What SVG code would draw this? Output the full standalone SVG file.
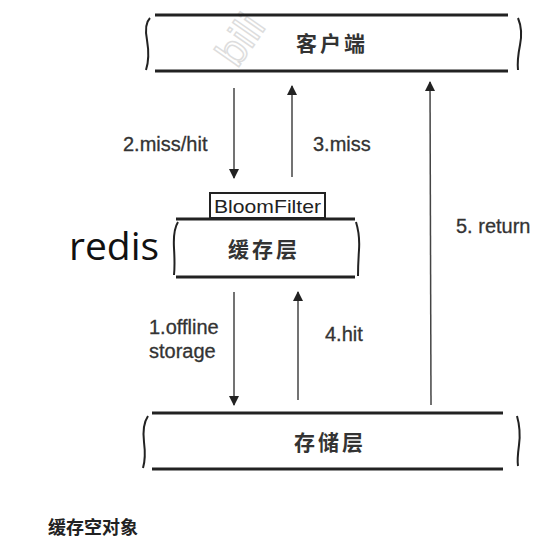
<svg xmlns="http://www.w3.org/2000/svg" width="553" height="543" viewBox="0 0 553 543">
<defs>
<marker id="ah" viewBox="0 0 10 10" refX="9" refY="5" markerWidth="10" markerHeight="10" markerUnits="userSpaceOnUse" orient="auto">
<path d="M0,0 L10,5 L0,10 z" fill="#222"/>
</marker>
<style>
.bar{stroke:#222;stroke-width:3;fill:none}
.brace{stroke:#222;stroke-width:2;fill:none}
.arr{stroke:#444;stroke-width:1.5;fill:none;marker-end:url(#ah)}
.lbl{font-family:"Liberation Sans",Arial,sans-serif;font-size:20px;fill:#333;stroke:#333;stroke-width:0.3}
.cn{font-family:"Noto Sans CJK SC",serif;font-size:21px;fill:#333;text-anchor:middle;font-weight:bold;letter-spacing:3px}
</style>
</defs>
<rect width="553" height="543" fill="#fff"/>
<text x="252" y="48" transform="rotate(-55 252 48)" font-family="Liberation Sans,sans-serif" font-size="42" fill="none" stroke="#ddd" stroke-width="1.5" text-anchor="middle">bili</text>
<g id="client">
<line class="bar" x1="155" y1="15" x2="508" y2="15"/>
<line class="bar" x1="155" y1="71" x2="508" y2="71"/>
<path class="brace" d="M150,18 Q144,24 147,40 Q150,58 146,70"/>
<path class="brace" d="M518,18 Q523,30 520,45 Q517,60 518,70"/>
<text class="cn" x="332" y="51">客户端</text>
</g>
<g id="bloom">
<rect x="210" y="193" width="115" height="25" fill="#fff" stroke="#222" stroke-width="2"/>
<text x="214" y="213" font-family="Liberation Sans,Arial,sans-serif" font-size="19" textLength="107" lengthAdjust="spacingAndGlyphs" fill="#222">BloomFilter</text>
</g>
<g id="cache">
<line class="bar" x1="176" y1="219" x2="355" y2="219"/>
<line class="bar" x1="176" y1="277" x2="355" y2="277"/>
<path class="brace" d="M178,222 Q173,230 174,248 Q175,265 174,275"/>
<path class="brace" d="M356,222 Q360,235 359,250 Q358,265 358,276"/>
<text class="cn" x="264" y="257">缓存层</text>
<text x="69" y="260" font-family="Open Sans,Liberation Sans,sans-serif" font-size="39" fill="#111">redis</text>
</g>
<g id="storage">
<line class="bar" x1="152" y1="413" x2="503" y2="413"/>
<line class="bar" x1="152" y1="469" x2="503" y2="469"/>
<path class="brace" d="M148,416 Q142,425 144,442 Q146,458 143,468"/>
<path class="brace" d="M517,416 Q521,430 519,445 Q517,460 518,466"/>
<text class="cn" x="330" y="450">存储层</text>
</g>
<g id="connectors">
<line class="arr" x1="234" y1="88" x2="234" y2="178"/>
<line class="arr" x1="292" y1="177" x2="292" y2="86"/>
<line class="arr" x1="234" y1="292" x2="234" y2="405"/>
<line class="arr" x1="298" y1="400" x2="298" y2="292"/>
<line class="arr" x1="431" y1="405" x2="430" y2="82"/>
<text class="lbl" x="123" y="151">2.miss/hit</text>
<text class="lbl" x="313" y="151">3.miss</text>
<text class="lbl" x="149" y="334">1.offline</text>
<text class="lbl" x="149" y="358">storage</text>
<text class="lbl" x="325" y="341">4.hit</text>
<text class="lbl" x="456" y="233">5. return</text>
</g>
<text x="48" y="534" font-family="Noto Sans CJK SC,sans-serif" font-size="18" font-weight="bold" fill="#222">缓存空对象</text>
</svg>
